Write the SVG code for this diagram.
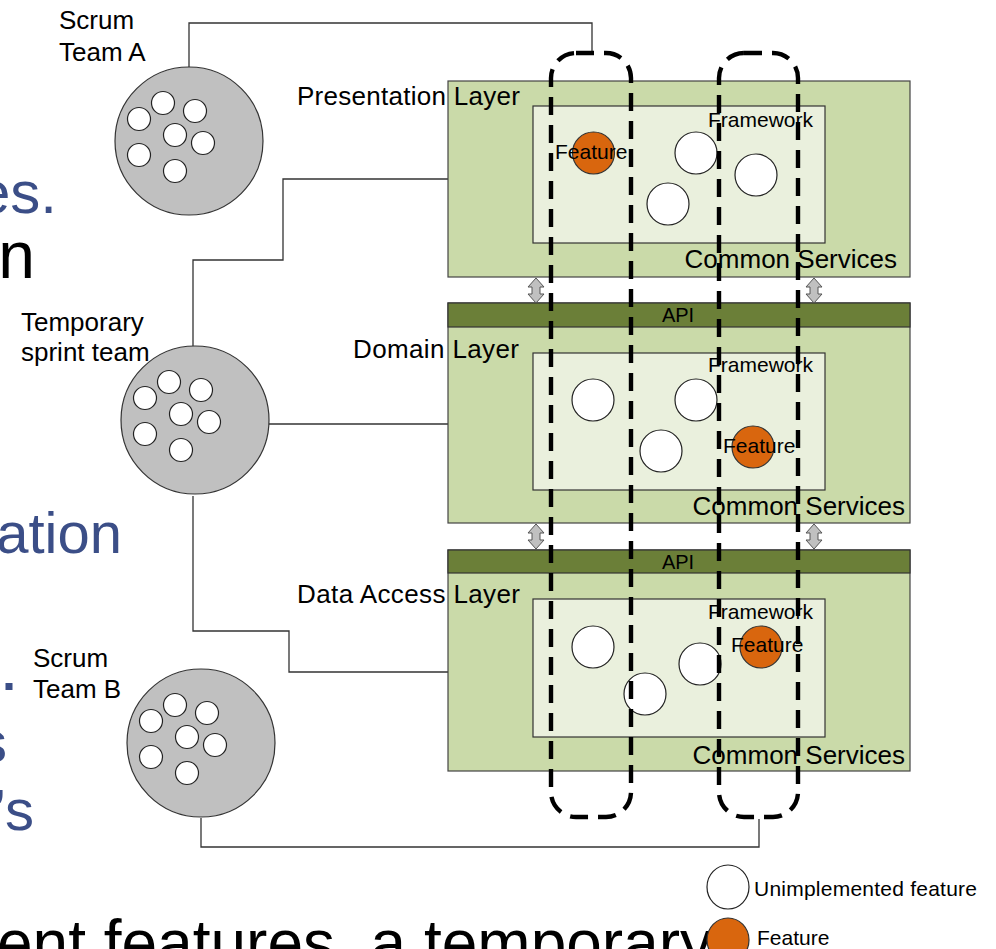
<svg xmlns="http://www.w3.org/2000/svg" width="996" height="949" viewBox="0 0 996 949">
  <style>
    text { font-family: "Liberation Sans", Arial, sans-serif; fill: #000; }
    .slide-blue { fill: #3b4e87; }
    .label { font-size: 26px; }
    .small { font-size: 21px; }
    .api { font-size: 20px; text-anchor: middle; }
    .team { fill: #c0c0c0; stroke: #333; stroke-width: 1.2; }
    .member { fill: #fff; stroke: #222; stroke-width: 1.2; }
    .layer { fill: #cadaa9; stroke: #444; stroke-width: 1.2; }
    .framework { fill: #eaf0dd; stroke: #333; stroke-width: 1.2; }
    .apibar { fill: #6b7f38; stroke: #333; stroke-width: 1.2; }
    .todo { fill: #fff; stroke: #222; stroke-width: 1.2; }
    .done { fill: #d9660e; stroke: #333; stroke-width: 1.2; }
    .link { fill: none; stroke: #333; stroke-width: 1.3; }
    .swap { fill: #c0c0c0; stroke: #555; stroke-width: 1; }
    .slice { fill: none; stroke: #000; stroke-width: 4.4; stroke-dasharray: 18 10; }
  </style>
  <defs>
    <g id="members">
      <circle class="member" cx="-50" cy="-22" r="11.5"/>
      <circle class="member" cx="-26" cy="-38" r="11.5"/>
      <circle class="member" cx="6" cy="-30" r="11.5"/>
      <circle class="member" cx="-14" cy="-6" r="11.5"/>
      <circle class="member" cx="14" cy="2" r="11.5"/>
      <circle class="member" cx="-50" cy="14" r="11.5"/>
      <circle class="member" cx="-14" cy="30" r="11.5"/>
    </g>
    <polygon id="swap" class="swap" points="0,0 8,9 4,9 4,16 8,16 0,25 -8,16 -4,16 -4,9 -8,9"/>
  </defs>

  <rect width="996" height="949" fill="#fff"/>

  <!-- slide text behind the diagram -->
  <g id="slide-text">
    <text class="slide-blue" x="57" y="213" font-size="60" text-anchor="end">es.</text>
    <text x="35" y="278" font-size="66" text-anchor="end">n</text>
    <text class="slide-blue" x="122" y="553" font-size="58" text-anchor="end">ation</text>
    <rect x="5.5" y="683" width="7" height="7" fill="#3b4e87"/>
    <text class="slide-blue" x="7" y="762" font-size="58" text-anchor="end">s</text>
    <text class="slide-blue" x="34" y="830" font-size="58" text-anchor="end">’s</text>
    <text x="-3" y="965" font-size="64">ent features, a temporary</text>
  </g>

  <!-- connectors -->
  <g id="connectors">
    <path class="link" d="M189,67 V23 H592 V53"/>
    <path class="link" d="M193,346 V260 H283 V179 H449"/>
    <path class="link" d="M269,424 H449"/>
    <path class="link" d="M193,496 V631 H289 V672 H449"/>
    <path class="link" d="M201,818 V847 H759 V819"/>
  </g>

  <!-- teams -->
  <g id="team-a">
    <circle class="team" cx="189" cy="141" r="74"/>
    <use href="#members" transform="translate(189,141)"/>
    <text class="label" x="59" y="29">Scrum</text>
    <text class="label" x="59" y="61">Team A</text>
  </g>
  <g id="team-temp">
    <circle class="team" cx="195" cy="420" r="74"/>
    <use href="#members" transform="translate(195,420)"/>
    <text class="label" x="21" y="331">Temporary</text>
    <text class="label" x="21" y="361">sprint team</text>
  </g>
  <g id="team-b">
    <circle class="team" cx="201" cy="743" r="74"/>
    <use href="#members" transform="translate(201,743)"/>
    <text class="label" x="33" y="667">Scrum</text>
    <text class="label" x="33" y="698">Team B</text>
  </g>

  <!-- presentation layer -->
  <g id="presentation-layer">
    <rect class="layer" x="448" y="81" width="462" height="196"/>
    <rect class="framework" x="533" y="106" width="292" height="137"/>
    <circle class="done" cx="593.5" cy="153" r="21"/>
    <circle class="todo" cx="696" cy="153" r="21"/>
    <circle class="todo" cx="668" cy="204" r="21"/>
    <circle class="todo" cx="756" cy="175" r="21"/>
    <text class="small" x="708" y="127">Framework</text>
    <text class="small" x="555" y="159">Feature</text>
    <text class="label" x="297" y="105" textLength="223">Presentation Layer</text>
    <text class="label" x="897" y="268" text-anchor="end">Common Services</text>
  </g>

  <!-- domain layer -->
  <g id="domain-layer">
    <rect class="layer" x="448" y="303" width="462" height="220"/>
    <rect class="apibar" x="448" y="303" width="462" height="24"/>
    <text class="api" x="678" y="322">API</text>
    <rect class="framework" x="533" y="353" width="292" height="137"/>
    <circle class="todo" cx="593" cy="400" r="21"/>
    <circle class="todo" cx="696" cy="400" r="21"/>
    <circle class="todo" cx="661" cy="451" r="21"/>
    <circle class="done" cx="753" cy="447" r="21"/>
    <text class="small" x="708" y="372">Framework</text>
    <text class="small" x="723" y="453">Feature</text>
    <text class="label" x="353" y="358" textLength="166">Domain Layer</text>
    <text class="label" x="905" y="515" text-anchor="end">Common Services</text>
  </g>

  <!-- data access layer -->
  <g id="data-access-layer">
    <rect class="layer" x="448" y="550" width="462" height="221"/>
    <rect class="apibar" x="448" y="550" width="462" height="23"/>
    <text class="api" x="678" y="569">API</text>
    <rect class="framework" x="533" y="599" width="292" height="138"/>
    <circle class="todo" cx="593" cy="647" r="21"/>
    <circle class="todo" cx="645" cy="694" r="21"/>
    <circle class="todo" cx="700" cy="664" r="21"/>
    <circle class="done" cx="761" cy="647" r="21"/>
    <text class="small" x="708" y="619">Framework</text>
    <text class="small" x="731" y="652">Feature</text>
    <text class="label" x="297" y="603" textLength="223">Data Access Layer</text>
    <text class="label" x="905" y="764" text-anchor="end">Common Services</text>
  </g>

  <!-- API crossings between layers -->
  <g id="api-crossings">
    <use href="#swap" transform="translate(536,278)"/>
    <use href="#swap" transform="translate(814,278)"/>
    <use href="#swap" transform="translate(536,524)"/>
    <use href="#swap" transform="translate(814,524)"/>
  </g>

  <!-- feature slices across the layers -->
  <g id="slice-left">
    <rect class="slice" x="551" y="53" width="80" height="764" rx="25" ry="25"/>
  </g>
  <g id="slice-right">
    <rect class="slice" x="719" y="53" width="79" height="764" rx="25" ry="25"/>
  </g>

  <!-- legend -->
  <g id="legend">
    <ellipse class="todo" cx="728" cy="887" rx="21" ry="22"/>
    <text class="small" x="754" y="896" textLength="223">Unimplemented feature</text>
    <ellipse class="done" cx="728" cy="940" rx="21" ry="22"/>
    <text class="small" x="757" y="945">Feature</text>
  </g>
</svg>
